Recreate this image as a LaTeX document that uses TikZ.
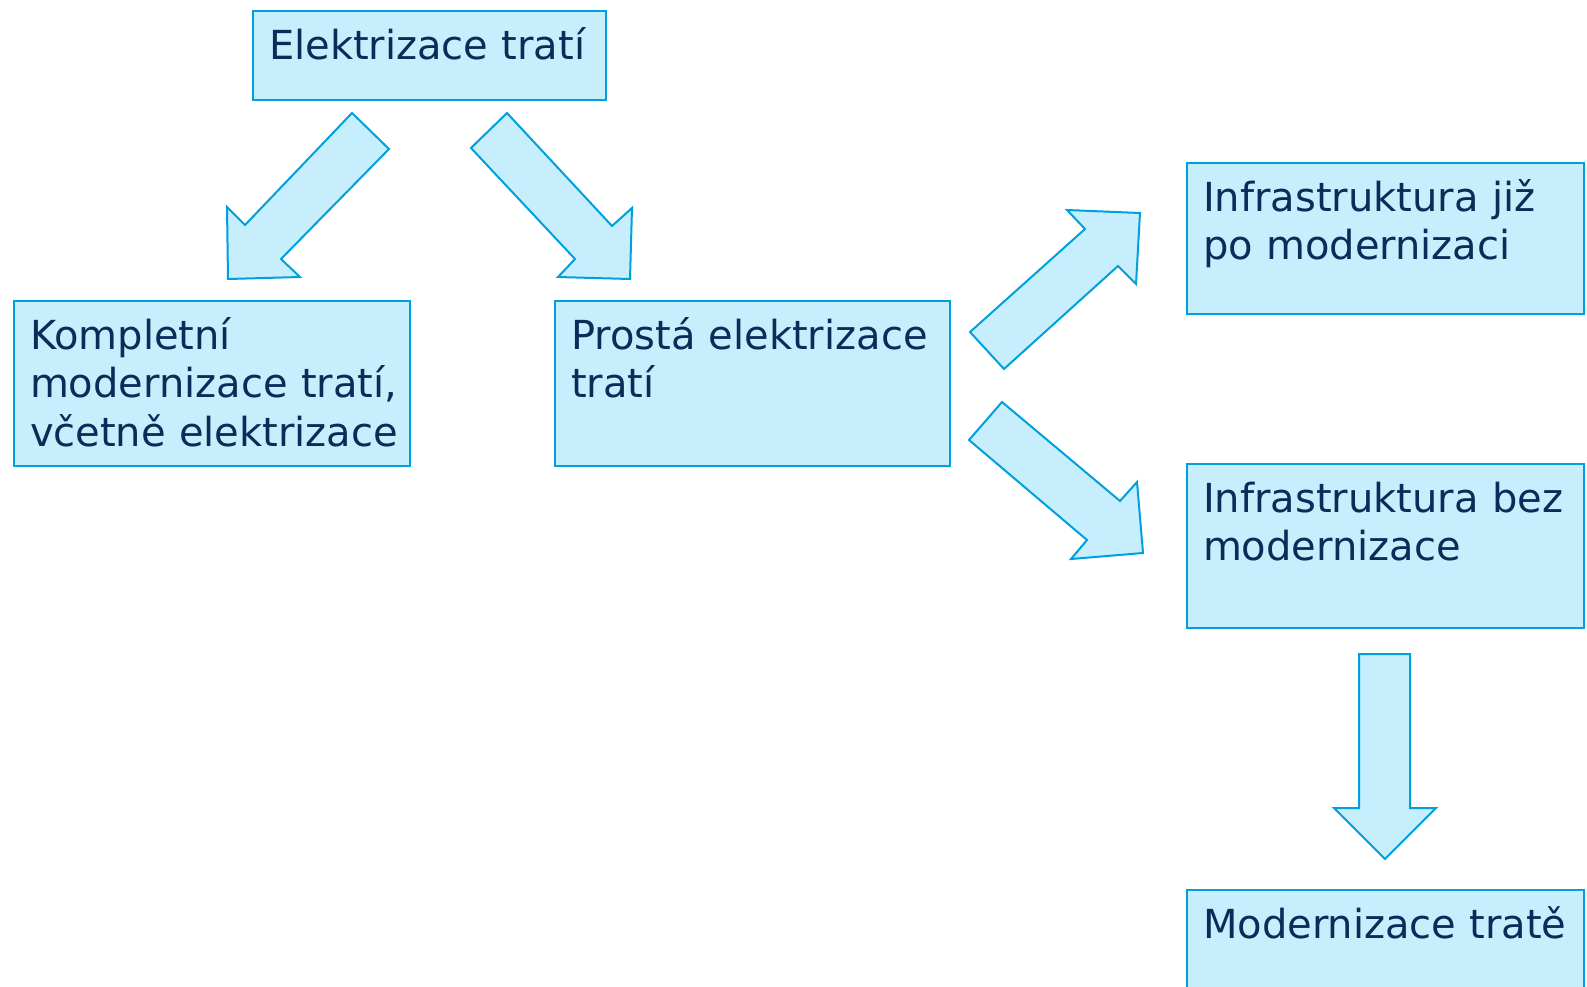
\documentclass[tikz,border=0pt]{standalone}
\usepackage{fontspec}
\setmainfont{DejaVu Sans}
\definecolor{lineblue}{RGB}{0,160,222}
\definecolor{fillblue}{RGB}{199,238,253}
\definecolor{textnavy}{RGB}{10,44,88}
\tikzset{
  box/.style={draw=lineblue, fill=fillblue, line width=2pt, text=textnavy,
    anchor=north west, align=left, inner xsep=16pt, inner ysep=0pt,
    text height=48pt, text depth=#1,
    font=\fontsize{40}{48.5}\selectfont},
  blockarrow/.style={draw=lineblue, fill=fillblue, line width=2pt, line join=miter}
}
\begin{document}
\begin{tikzpicture}[x=1pt, y=-1pt]
    \useasboundingbox (0, 0) rectangle (1587, 986);
    % boxes
    \node [box=41pt, text width=321pt] (elektrizace) at (252, 10) {\mbox{Elektrizace tratí}};
    \node [box=117pt, text width=364pt] (kompletni) at (13, 300)
        {Kompletní\\\mbox{modernizace tratí,}\\\mbox{včetně elektrizace}};
    \node [box=117pt, text width=363pt] (prosta) at (554, 300) {\mbox{Prostá elektrizace}\\tratí};
    \node [box=103pt, text width=365pt] (infrajiz) at (1186, 162) {\mbox{Infrastruktura již}\\\mbox{po modernizaci}};
    \node [box=116pt, text width=365pt] (infrabez) at (1186, 463) {\mbox{Infrastruktura bez}\\modernizace};
    \node [box=140pt, text width=365pt] (modernizace) at (1186, 889) {\mbox{Modernizace tratě}};
    % block arrows
    \draw [blockarrow] (352, 113) -- (389, 149) -- (281, 259) -- (300, 277)
        -- (228, 279) -- (227, 207) -- (245, 225) -- cycle;
    \draw [blockarrow] (507, 113) -- (471, 148) -- (575, 259) -- (558, 277)
        -- (630, 279) -- (632, 208) -- (612, 226) -- cycle;
    \draw [blockarrow] (970, 332) -- (1004, 369) -- (1118, 266) -- (1136, 284)
        -- (1140, 213) -- (1067, 210) -- (1085, 229) -- cycle;
    \draw [blockarrow] (1002, 402) -- (969, 440) -- (1087, 540) -- (1071, 559)
        -- (1143, 553) -- (1137, 482) -- (1120, 501) -- cycle;
    \draw [blockarrow] (1359, 654) -- (1410, 654) -- (1410, 808) -- (1436, 808)
        -- (1385, 859) -- (1334, 808) -- (1359, 808) -- cycle;
\end{tikzpicture}
\end{document}
